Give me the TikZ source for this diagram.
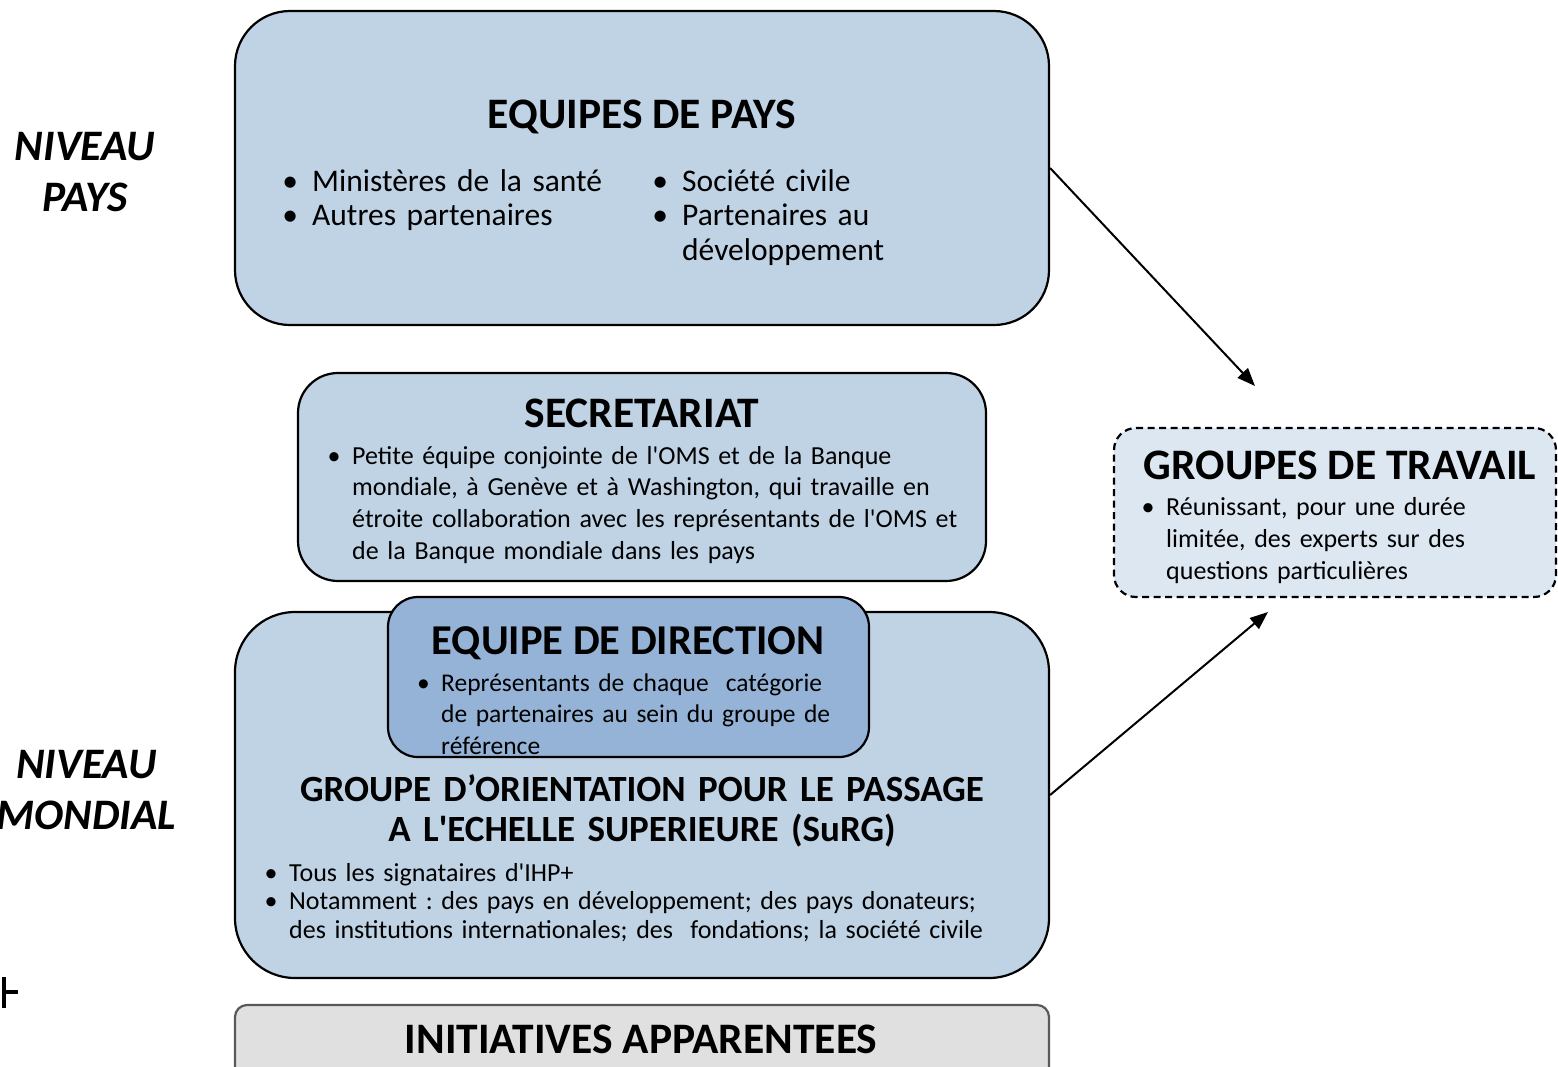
\documentclass[tikz,border=0pt]{standalone}
\usepackage{fontspec}
\setmainfont{Carlito}
\usetikzlibrary{arrows.meta}

\definecolor{bleuclair}{RGB}{191,211,229}
\definecolor{bleufonce}{RGB}{149,179,215}
\definecolor{bleupale}{RGB}{221,231,242}
\definecolor{grisclair}{RGB}{224,224,224}
\definecolor{grisbord}{RGB}{89,89,89}

\newcommand{\puce}{\leavevmode\llap{\textbullet\hspace{0.45em}}}
\frenchspacing

\begin{document}
\begin{tikzpicture}[x=1pt, y=-1pt,
    boite/.style={draw, line width=2.2pt, fill=bleuclair, inner sep=0pt},
    titre/.style={font=\fontsize{43.5}{50}\selectfont\bfseries, anchor=base, inner sep=0pt},
    liste/.style={anchor=base west, inner sep=0pt, align=left, text width=720pt},
    niveau/.style={font=\fontsize{43.5}{51}\selectfont\bfseries\itshape, anchor=base,
                   inner sep=0pt, align=center, text width=220pt},
    fleche/.style={line width=2pt, -{Triangle[length=18pt,width=14pt]}}]

    \useasboundingbox (0,0) rectangle (1558,1066);
    \clip (0,0) rectangle (1558,1066);

    % Niveaux
    \node[niveau] (npays) at (85,160.5) {NIVEAU\\PAYS};
    \node[niveau] (nmonde) at (86.5,778.5) {NIVEAU\\MONDIAL};

    % Boites
    \node[boite, minimum width=814, minimum height=314, rounded corners=55] (pays) at (642,168) {};
    \node[boite, minimum width=688, minimum height=208, rounded corners=40] (secr) at (642,477) {};
    \node[boite, minimum width=814, minimum height=366, rounded corners=60] (surg) at (642,795) {};
    \node[boite, fill=bleufonce, minimum width=481, minimum height=160, rounded corners=30] (dir) at (628.5,677) {};
    \node[boite, fill=bleupale, dash pattern=on 7pt off 4.5pt, minimum width=442, minimum height=169,
          rounded corners=22] (travail) at (1335,512.5) {};
    \node[boite, fill=grisclair, draw=grisbord, minimum width=814, minimum height=80, rounded corners=12] (init) at (642,1045) {};

    % Equipes de pays
    \node[titre] (tpays) at (642,128.5) {EQUIPES DE PAYS};
    \node[liste, font=\fontsize{31.5}{34.5}\selectfont] (lpays1) at (312,191)
        {\puce Ministères de la santé\\\puce Autres partenaires};
    \node[liste, font=\fontsize{31.5}{34.5}\selectfont] (lpays2) at (682,191)
        {\puce Société civile\\\puce Partenaires au\\développement};

    % Secretariat
    \node[titre] (tsecr) at (642,427.5) {SECRETARIAT};
    \node[liste, font=\fontsize{26}{31.7}\selectfont] (lsecr) at (352,464)
        {\puce Petite équipe conjointe de l\textquotesingle OMS et de la Banque\\
         mondiale, à Genève et à Washington, qui travaille en\\
         étroite collaboration avec les représentants de l\textquotesingle OMS et\\
         de la Banque mondiale dans les pays};

    % Equipe de direction
    \node[titre, font=\fontsize{42.5}{50}\selectfont\bfseries] (tdir) at (628,654.5) {EQUIPE DE DIRECTION};
    \node[liste, font=\fontsize{25.5}{31.5}\selectfont] (ldir) at (441,691)
        {\puce Représentants de chaque\ \ catégorie\\
         de partenaires au sein du groupe de\\référence};

    % Groupe d'orientation
    \node[titre, font=\fontsize{37}{40}\selectfont\bfseries, align=center, text width=800pt] (tsurg) at (642,801)
        {GROUPE D’ORIENTATION POUR LE PASSAGE\\A L\textquotesingle ECHELLE SUPERIEURE (SuRG)};
    \node[liste, font=\fontsize{26}{28.5}\selectfont] (lsurg) at (289,881)
        {\puce Tous les signataires d\textquotesingle IHP+\\
         \puce Notamment : des pays en développement; des pays donateurs;\\
         des institutions internationales; des\ \ fondations; la société civile};

    % Groupes de travail
    \node[titre] (ttrav) at (1340,479.5) {GROUPES DE TRAVAIL};
    \node[liste, font=\fontsize{26}{32}\selectfont] (ltrav) at (1166,515)
        {\puce Réunissant, pour une durée\\limitée, des experts sur des\\questions particulières};

    % Initiatives
    \node[titre, font=\fontsize{43.5}{50}\selectfont\bfseries] (tinit) at (641,1053.5) {INITIATIVES APPARENTEES};

    % Fleches
    \coordinate (finA) at (1255,386);
    \coordinate (finB) at (1268,612);
    \draw[fleche] (pays.east) -- (finA);
    \draw[fleche] (surg.east) -- (finB);

    % Repere
    \draw[line width=3.5pt] (4,977) -- (4,1008);
    \draw[line width=3.5pt] (4,992) -- (18,992);
\end{tikzpicture}
\end{document}
